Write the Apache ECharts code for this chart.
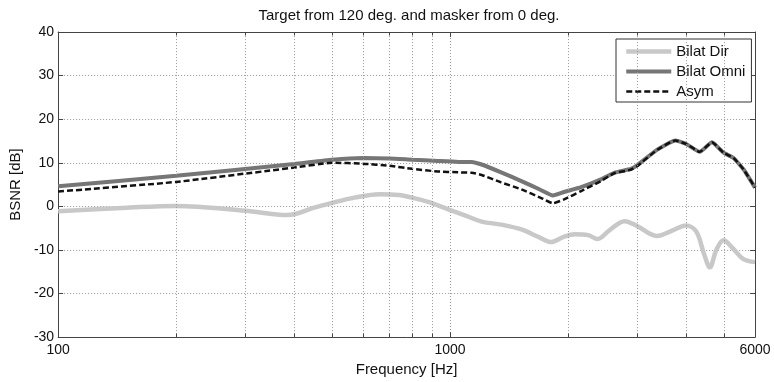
<!DOCTYPE html>
<html>
<head>
<meta charset="utf-8">
<script src="https://cdn.jsdelivr.net/npm/echarts@6/dist/echarts.min.js"></script>
<style>html,body{margin:0;padding:0;background:#fff}#c{width:774px;height:382px}</style>
</head>
<body>
<div id="c"></div>
<script>
// ---- data ----
const dirFreq = [100,150,200,300,385,450,500,570,660,740,800,880,990,1100,1204,1352,1521,1680,1813,1950,2083,2250,2380,2550,2790,3000,3370,3700,4000,4250,4450,4603,4780,4988,5250,5607,6000];
const dirVals = [-1.1,-0.3,0.1,-1.0,-2.0,-0.3,0.8,2.0,2.8,2.6,2.0,1.0,-0.7,-2.2,-3.5,-4.2,-5.3,-7.0,-8.2,-7.0,-6.4,-6.6,-7.5,-5.5,-3.4,-4.5,-6.8,-5.5,-4.4,-5.8,-11.0,-14.0,-10.0,-7.8,-9.5,-12.1,-12.8];

const omniFreq = [100,200,400,500,600,700,800,930,1050,1136,1204,1350,1521,1700,1831,1955,2160,2427,2623,2892,3000,3380,3761,4027,4336,4659,4988,5289,5607,6000];
const omniVals = [4.6,7.0,9.7,10.7,11.1,11.0,10.7,10.4,10.2,10.2,9.6,7.8,5.8,3.8,2.5,3.3,4.4,6.2,7.7,8.6,9.4,13.0,15.1,14.2,12.5,14.7,12.3,11.1,8.5,4.3];

const asymFreq = [100,200,400,500,600,700,800,930,1050,1136,1204,1350,1521,1700,1831,1955,2160,2427,2623,2892,3000,3380,3761,4027,4336,4659,4988,5289,5607,6000];
const asymVals = [3.4,5.6,8.9,10.0,9.8,9.3,8.6,8.0,7.8,7.7,7.2,5.5,3.9,2.0,0.7,1.6,3.5,5.8,7.6,8.4,9.2,13.0,15.1,14.2,12.5,14.7,12.3,11.1,8.5,4.3];

const seriesNames = ['Bilat Dir','Bilat Omni','Asym'];
const minorFreqs = [200,300,400,500,600,700,800,900,2000,3000,4000,5000];
const xMin = 100, xMax = 6000, yMin = -30, yMax = 40, yStep = 10;

const zip = (xs, ys) => xs.map((x, i) => [x, ys[i]]);

const FONT = 'Liberation Sans';
const axisCol = '#444';
const gridLine = {show: true, lineStyle: {color: '#999', width: 1, type: [1, 2]}};

const markData = [];
minorFreqs.forEach(f => {
  markData.push({xAxis: f, lineStyle: {color: '#999', width: 1, type: [1, 2]}});
  markData.push([{coord: [f, yMin], lineStyle: {color: axisCol, width: 1, type: 'solid'}}, {coord: [f, yMin + 0.8]}]);
  markData.push([{coord: [f, yMax], lineStyle: {color: axisCol, width: 1, type: 'solid'}}, {coord: [f, yMax - 0.8]}]);
});

const chart = echarts.init(document.getElementById('c'), null, {renderer: 'canvas'});
chart.setOption({
  animation: false,
  backgroundColor: '#fff',
  textStyle: {fontFamily: FONT},
  title: {
    text: 'Target from 120 deg. and masker from 0 deg.',
    left: 404, top: 3, textAlign: 'center',
    textStyle: {fontFamily: FONT, fontSize: 15, fontWeight: 'normal', color: '#111'}
  },
  legend: {
    data: seriesNames,
    orient: 'vertical',
    left: 616, top: 39,
    padding: [5, 6, 3, 8],
    itemWidth: 45, itemHeight: 14, itemGap: 5,
    backgroundColor: '#fff',
    borderColor: '#333', borderWidth: 1, borderRadius: 0,
    itemStyle: {opacity: 0},
    lineStyle: {width: 'inherit'},
    textStyle: {fontFamily: FONT, fontSize: 15, color: '#111', padding: [0, 0, 0, 0]}
  },
  grid: {left: 54, right: 19, top: 32, bottom: 44, containLabel: false},
  xAxis: [{
    type: 'log', logBase: 10, min: xMin, max: xMax,
    name: 'Frequency [Hz]', nameLocation: 'middle', nameGap: 24,
    nameTextStyle: {fontFamily: FONT, fontSize: 15, color: '#111'},
    axisLine: {show: true, onZero: false, lineStyle: {color: axisCol, width: 1}},
    axisTick: {show: true, inside: true, length: 5, lineStyle: {color: axisCol}},
    axisLabel: {margin: 6, fontFamily: FONT, fontSize: 14, color: '#111', formatter: v => String(Math.round(v))},
    splitLine: gridLine
  }, {
    type: 'log', logBase: 10, min: xMin, max: xMax, position: 'top',
    axisLine: {show: true, onZero: false, lineStyle: {color: axisCol, width: 1}},
    axisTick: {show: true, inside: true, length: 5, lineStyle: {color: axisCol}},
    axisLabel: {show: false}, splitLine: {show: false}
  }],
  yAxis: [{
    type: 'value', min: yMin, max: yMax, interval: yStep,
    name: 'BSNR [dB]', nameLocation: 'middle', nameGap: 32,
    nameTextStyle: {fontFamily: FONT, fontSize: 15, color: '#111'},
    axisLine: {show: true, onZero: false, lineStyle: {color: axisCol, width: 1}},
    axisTick: {show: true, inside: true, length: 5, lineStyle: {color: axisCol}},
    axisLabel: {margin: 4, fontFamily: FONT, fontSize: 14, color: '#111'},
    splitLine: gridLine
  }, {
    type: 'value', min: yMin, max: yMax, interval: yStep, position: 'right',
    axisLine: {show: true, onZero: false, lineStyle: {color: axisCol, width: 1}},
    axisTick: {show: true, inside: true, length: 5, lineStyle: {color: axisCol}},
    axisLabel: {show: false}, splitLine: {show: false}
  }],
  series: [{
    name: seriesNames[0], type: 'line', data: zip(dirFreq, dirVals),
    symbol: 'none', smooth: 0.35, color: '#c8c8c8',
    lineStyle: {color: '#c8c8c8', width: 4.5},
    markLine: {silent: true, symbol: ['none', 'none'], label: {show: false}, animation: false, data: markData}
  }, {
    name: seriesNames[1], type: 'line', data: zip(omniFreq, omniVals),
    symbol: 'none', smooth: 0.15, color: '#767676',
    lineStyle: {color: '#767676', width: 4}
  }, {
    name: seriesNames[2], type: 'line', data: zip(asymFreq, asymVals),
    symbol: 'none', smooth: 0.15, color: '#111',
    lineStyle: {color: '#111', width: 2.5, type: [6, 3]}
  }]
});
</script>
</body>
</html>
